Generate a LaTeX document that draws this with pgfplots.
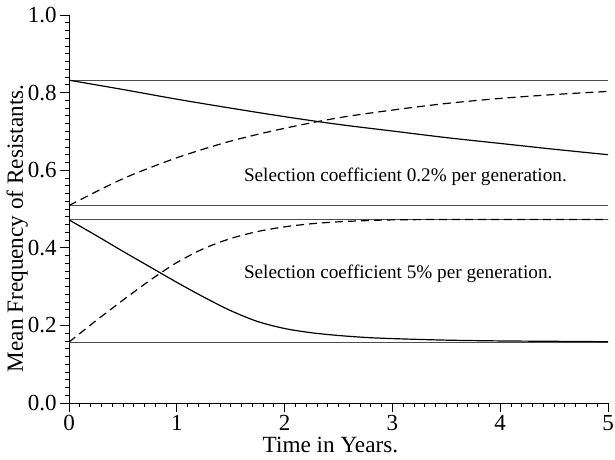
\documentclass[border=0pt]{standalone}
\usepackage{pgfplots}
\pgfplotsset{compat=1.18}
\usepackage{fontspec}
\setmainfont{Liberation Serif}
\begin{document}
\begin{tikzpicture}
\begin{axis}[
  name=ax,
  width=269.5pt, height=194pt, scale only axis,
  xmin=0, xmax=5, ymin=0, ymax=1,
  axis lines=left, axis line style={-, line width=0.5pt},
  xtick={0,1,2,3,4,5}, ytick={0,0.2,0.4,0.6,0.8,1.0},
  minor x tick num=9, minor y tick num=9,
  tick align=outside, major tick length=4.5pt, minor tick length=2.2pt,
  tick style={black, line width=0.4pt},
  yticklabel style={/pgf/number format/fixed, /pgf/number format/fixed zerofill, /pgf/number format/precision=1},
  /pgf/number format/assume math mode=true,
  ticklabel style={font=\fontsize{11.5}{13}\selectfont, inner sep=1.5pt},
  label style={font=\fontsize{11.6}{14}\selectfont},
  xlabel={Time in Years.}, ylabel={Mean Frequency of Resistants.},
  xlabel style={at={(axis description cs:0.485,-0.108)}, anchor=center},
  ylabel style={at={(axis description cs:-0.096,0.45)}, anchor=center},
  clip=false,
]
% horizontal reference lines
\addplot[black!70, line width=0.4pt] coordinates {(0,0.832) (5,0.832)};
\addplot[black!70, line width=0.4pt] coordinates {(0,0.509) (5,0.509)};
\addplot[black!70, line width=0.4pt] coordinates {(0,0.473) (5,0.473)};
\addplot[black!70, line width=0.4pt] coordinates {(0,0.157) (5,0.157)};
% s = 0.2%
\addplot[black, line width=0.6pt, smooth] coordinates {
 (0,0.832) (0.5,0.808) (1.0,0.783) (1.5,0.760) (2.0,0.738) (2.5,0.718)
 (3.0,0.701) (3.5,0.684) (4.0,0.669) (4.5,0.654) (5.0,0.640)};
\addplot[black, line width=0.6pt, smooth, dash pattern=on 4pt off 2.5pt] coordinates {
 (0,0.509) (0.5,0.578) (1.0,0.632) (1.5,0.675) (2.0,0.708) (2.5,0.735)
 (3.0,0.755) (3.5,0.772) (4.0,0.785) (4.5,0.795) (5.0,0.803)};
% s = 5%
\addplot[black, line width=0.6pt, smooth] coordinates {
 (0,0.472) (0.25,0.432) (0.5,0.391) (0.75,0.351) (1.0,0.311) (1.25,0.273)
 (1.5,0.238) (1.75,0.210) (2.0,0.192) (2.25,0.181) (2.5,0.174) (2.75,0.169)
 (3.0,0.166) (3.5,0.162) (4.0,0.160) (4.5,0.159) (5.0,0.158)};
\addplot[black, line width=0.6pt, smooth, dash pattern=on 4pt off 2.5pt] coordinates {
 (0,0.157) (0.25,0.212) (0.5,0.265) (0.75,0.316) (1.0,0.362) (1.25,0.398)
 (1.5,0.424) (1.75,0.442) (2.0,0.454) (2.25,0.462) (2.5,0.467) (2.75,0.470)
 (3.0,0.472) (3.5,0.473) (4.0,0.473) (4.5,0.473) (5.0,0.473)};
\node[anchor=west, font=\fontsize{9.6}{12}\selectfont, inner sep=0pt] at (axis cs:1.62,0.582) {Selection coefficient 0.2\% per generation.};
\node[anchor=west, font=\fontsize{9.6}{12}\selectfont, inner sep=0pt] at (axis cs:1.62,0.334) {Selection coefficient 5\% per generation.};
\end{axis}
\pgfresetboundingbox
\path ([shift={(-34.5pt,-28pt)}]ax.south west) rectangle ([shift={(3.5pt,7.5pt)}]ax.north east);
\end{tikzpicture}
\end{document}
